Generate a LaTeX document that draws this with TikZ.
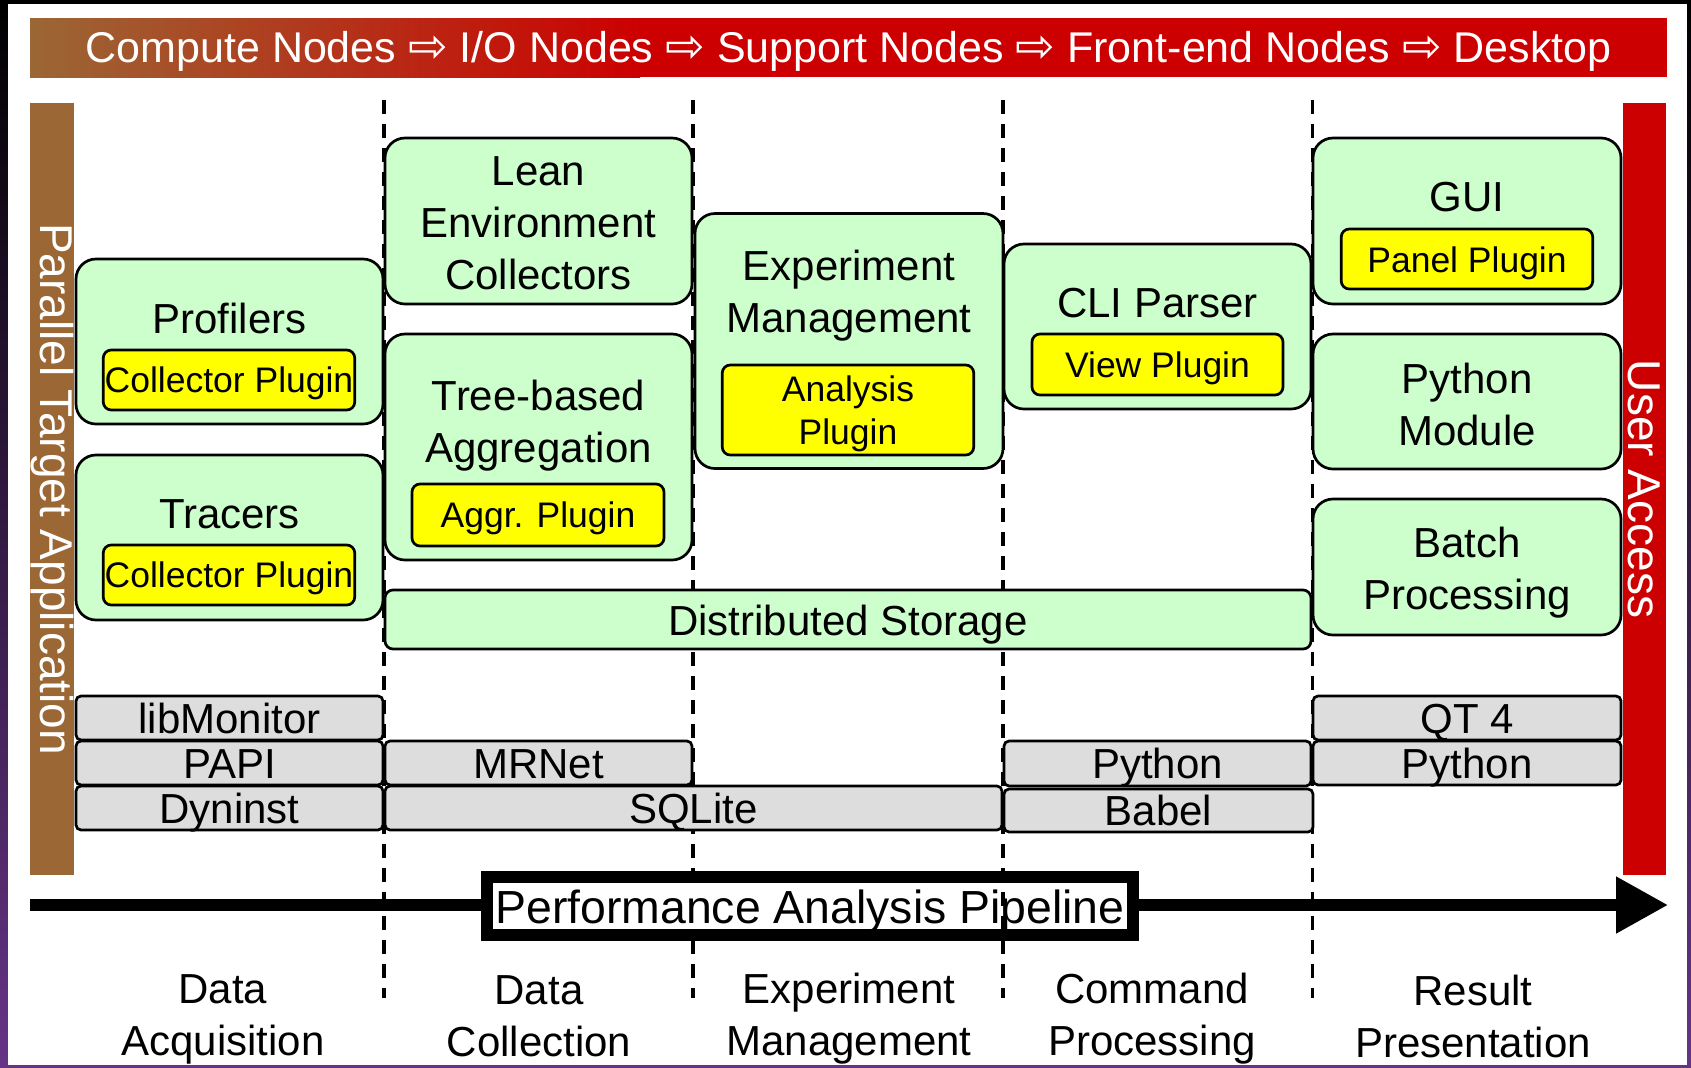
\documentclass[tikz,border=0pt]{standalone}
\usepackage{fontspec}
\setmainfont{Liberation Sans}
\newfontfamily\djv{DejaVu Sans}
\usetikzlibrary{arrows.meta}
\definecolor{brownc}{RGB}{155,103,52}
\definecolor{redc}{RGB}{204,0,0}
\definecolor{greenc}{RGB}{204,255,204}
\definecolor{yellowc}{RGB}{255,255,0}
\definecolor{grayc}{RGB}{221,221,221}
\definecolor{framec}{RGB}{102,52,134}
\newcommand{\bigarr}{{\djv\scalebox{1.1}{⇨}}}
\tikzset{
  sz/.style 2 args={minimum width=#1*0.5pt, minimum height=#2*0.5pt},
  gbox/.style={draw=black, line width=1.35pt, fill=greenc, rounded corners=10pt, inner sep=0pt, align=center, font=\fontsize{21}{26}\selectfont},
  ybox/.style={draw=black, line width=1.35pt, fill=yellowc, rounded corners=4pt, inner sep=0pt, align=center, font=\fontsize{17.75}{21.5}\selectfont},
  graybox/.style={draw=black, line width=1.35pt, fill=grayc, rounded corners=2.5pt, inner sep=0pt, text height=15pt, text depth=0pt, font=\fontsize{21}{26}\selectfont},
  lbl/.style={inner sep=0pt, align=center, font=\fontsize{21}{26}\selectfont},
  sidebar/.style={inner sep=0pt, rotate=-90, text=white, font=\fontsize{23}{27}\selectfont},
  divider/.style={line width=1.6pt, dash pattern=on 7pt off 5pt},
  pipearrow/.style={line width=5.7pt, -{Triangle[length=26pt, width=27pt]}},
}
\begin{document}
\begin{tikzpicture}[x=0.5pt, y=-0.5pt]
\useasboundingbox (0,0) rectangle (1691,1067);
% frame
\shade[top color=black, bottom color=framec] (0,0) rectangle (1691,1067);
\fill[white] (8,4) rectangle (1687,1065);
% top banner
\fill[redc] (30,18) rectangle (1667,77);
\shade[left color=brownc, right color=redc] (30,18) rectangle (640,77);
\node[inner sep=0pt, text=white, font=\fontsize{21.5}{25}\selectfont] (banner) at (848.5,51)
  {Compute Nodes \bigarr{} I/O Nodes \bigarr{} Support Nodes \bigarr{} Front-end Nodes \bigarr{} Desktop};
% side bars
\node[sidebar, fill=brownc, sz={772}{44}] (pta) at (52,489) {Parallel Target Application};
\node[sidebar, fill=redc, sz={772}{43}] (ua) at (1644.5,489) {User Access};
% divider end points
\foreach \i/\x in {1/384, 2/693, 3/1003, 4/1312.5} {
  \coordinate (d\i t) at (\x,100);
  \coordinate (d\i b) at (\x,998);
}
% dividers under the pipeline box
\draw[divider] (d1t) -- (d1b);
\draw[divider] (d2t) -- (d2b);
\draw[divider] (d4t) -- (d4b);
% pipeline arrow
\coordinate (astart) at (30,905);
\coordinate (aend) at (1668,905);
\draw[pipearrow] (astart) -- (aend);
\node[draw=black, line width=6pt, fill=white, inner sep=0pt, sz={646}{58}] (pipe) at (810,906) {};
\node[inner sep=0pt, font=\fontsize{23.2}{27}\selectfont] (pipet) at (810,911) {Performance Analysis Pipeline};
% divider over the pipeline box
\draw[divider] (d3t) -- (d3b);
% green boxes
\node[gbox, sz={307}{165}] (prof) at (229.5,341.5) {};
\node[gbox, sz={307}{165}] (trac) at (229.5,537.5) {};
\node[gbox, sz={307}{166}] (lean) at (538.5,221) {};
\node[gbox, sz={307}{226}] (tree) at (538.5,447) {};
\node[gbox, sz={308}{255}] (expm) at (849,341) {};
\node[gbox, sz={307}{165}] (cli) at (1157.5,326.5) {};
\node[gbox, sz={308}{166}] (gui) at (1467,221) {};
\node[gbox, sz={308}{135}] (pym) at (1467,401.5) {};
\node[gbox, sz={308}{136}] (batch) at (1467,567) {};
\node[gbox, rounded corners=4pt, sz={926}{59}] (dist) at (848,619.5) {};
% titles
\node[lbl] (proft) at (229.5,318) {Profilers};
\node[lbl] (tract) at (229.5,514) {Tracers};
\node[lbl] (leant) at (538.5,223) {Lean\\Environment\\Collectors};
\node[lbl] (treet) at (538.5,426) {Tree-based\\Aggregation};
\node[lbl] (expmt) at (849,296) {Experiment\\Management};
\node[lbl] (clit) at (1157.5,303) {CLI Parser};
\node[lbl] (guit) at (1467,197) {GUI};
\node[lbl] (pymt) at (1467,404) {Python\\Module};
\node[lbl] (batcht) at (1467,573) {Batch\\Processing};
\node[lbl] (distt) at (848,624.5) {Distributed Storage};
% plugins
\node[ybox, sz={251.5}{60}] (profp) at (229,380) {};
\node[ybox, sz={251.5}{60}] (tracp) at (229,575) {};
\node[ybox, sz={252}{62}] (aggp) at (538,515) {};
\node[ybox, sz={251.5}{90}] (anap) at (848,410) {};
\node[ybox, sz={251}{61}] (viewp) at (1157.5,364.5) {};
\node[ybox, sz={251.5}{60}] (panp) at (1467,259) {};
\node[ybox, draw=none, fill=none] (profpt) at (229,383) {Collector Plugin};
\node[ybox, draw=none, fill=none] (tracpt) at (229,578) {Collector Plugin};
\node[ybox, draw=none, fill=none] (aggpt) at (538,518) {Aggr. Plugin};
\node[ybox, draw=none, fill=none] (anapt) at (848,414) {Analysis\\Plugin};
\node[ybox, draw=none, fill=none] (viewpt) at (1157.5,368.5) {View Plugin};
\node[ybox, draw=none, fill=none] (panpt) at (1467,263) {Panel Plugin};
% gray boxes
\node[graybox, sz={307}{44}] (libm) at (229.5,718) {libMonitor};
\node[graybox, sz={307}{44}] (papi) at (229.5,763) {PAPI};
\node[graybox, sz={307}{44}] (dyn) at (229.5,808) {Dyninst};
\node[graybox, sz={307}{44}] (mrnet) at (538.5,763) {MRNet};
\node[graybox, sz={617}{44}] (sqlite) at (693.5,808) {SQLite};
\node[graybox, sz={307}{45}] (pymid) at (1157.5,763.5) {Python};
\node[graybox, sz={309}{43}] (babel) at (1158.5,810.5) {Babel};
\node[graybox, sz={308}{44}] (qt) at (1467,718) {QT 4};
\node[graybox, sz={308}{44}] (pyr) at (1467,763) {Python};
% phase labels
\node[lbl] (ph1) at (223,1019) {Data\\Acquisition};
\node[lbl] (ph2) at (539,1016) {Data\\Collection};
\node[lbl] (ph3) at (849,1019) {Experiment\\Management};
\node[lbl] (ph4) at (1152,1019) {Command\\Processing};
\node[lbl] (ph5) at (1473,1016) {Result\\Presentation};
\end{tikzpicture}
\end{document}
